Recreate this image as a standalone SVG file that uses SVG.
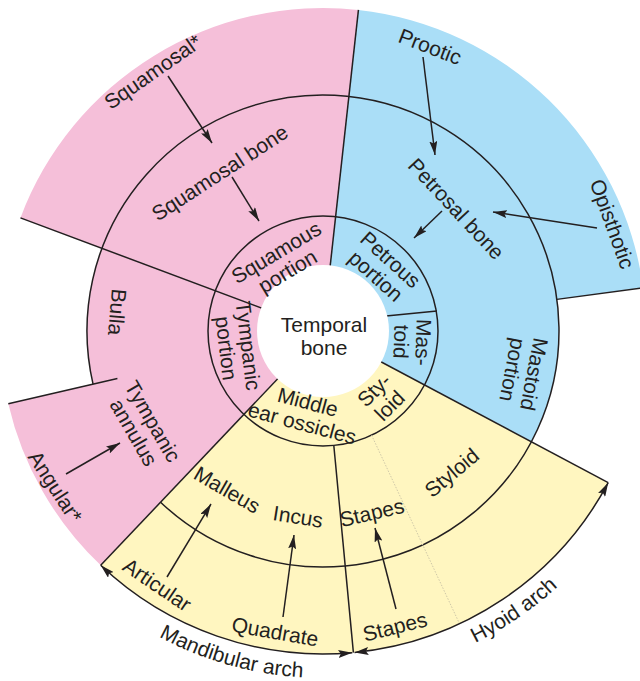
<svg xmlns="http://www.w3.org/2000/svg" width="640" height="681" viewBox="0 0 640 681">
<defs>
<style>
.t{font-family:"Liberation Sans",Arial,Helvetica,sans-serif;font-size:21px;fill:#231F20;text-anchor:middle}
.ln{stroke:#231F20;stroke-width:1.5;fill:none}
.dot{stroke:#cfc8a8;stroke-width:1;stroke-dasharray:1.5 1.5;fill:none}
.ar{stroke:#231F20;stroke-width:1.5;fill:none;marker-end:url(#ah)}
.ar2{stroke:#231F20;stroke-width:1.5;fill:none;marker-start:url(#ah);marker-end:url(#ah)}
</style>
<marker id="ah" viewBox="0 0 14 8" refX="14" refY="4" markerWidth="14" markerHeight="8" markerUnits="userSpaceOnUse" orient="auto-start-reverse"><path d="M0,0 L14,4 L0,8 L2.5,4 Z" fill="#231F20"/></marker>
<path id="arch" d="M22.49,504.5 A347,347 0 0 0 649.07,449.68"/>
</defs>
<g id="regions">
<path fill="#F5BFD9" d="M323,331 L100.7,565.3 A323,323 0 0 1 8.3,403.7 L93.05,384.1 A236,236 0 0 1 101.95,248.35 L20.46,217.88 A323,323 0 0 1 358.44,9.95 Z"/>
<path fill="#AADEF7" d="M323,331 L358.44,9.95 A323,323 0 0 1 643.1,287.7 L556.87,299.38 A236,236 0 0 1 531.38,441.8 Z"/>
<path fill="#FFF6C0" d="M323,331 L608.19,482.64 A323,323 0 0 1 100.7,565.3 Z"/>
</g>
<g id="dividers">
<circle class="ln" cx="323" cy="331" r="115"/>
<path class="ln" d="M93.05,384.1 A236,236 0 1 1 160.55,502.19"/>
<path class="ln" d="M323,331 L358.44,9.95"/>
<path class="ln" d="M323,331 L20.46,217.88"/>
<path class="ln" d="M323,331 L100.7,565.3"/>
<path class="ln" d="M323,331 L608.19,482.64"/>
<path class="ln" d="M556.87,299.38 L650,286.8"/>
<path class="ln" d="M117.41,378.46 L8.3,403.7"/>
<path class="ln" d="M333.82,445.49 L353.4,652.57"/>
<path class="ln" d="M386,316 L437,311"/>
<path class="dot" d="M371.6,435.2 L459.5,623.7"/>
</g>
<circle id="hub" cx="323" cy="331" r="66" fill="#FFFFFF"/>
<g id="connectors">
<path class="ar" d="M168,76 L212,143"/>
<path class="ar" d="M232,177 L259,221"/>
<path class="ar" d="M423,57 L435,155"/>
<path class="ar" d="M597,228 L493,212"/>
<path class="ar" d="M442,211 L414,238"/>
<path class="ar" d="M66,474 L120,443"/>
<path class="ar" d="M167,577 L211,504"/>
<path class="ar" d="M283,617 L294,535"/>
<path class="ar" d="M396,609 L375,528"/>
<path class="ar2" d="M100.7,565.3 A323,323 0 0 0 352.27,652.67"/>
<path class="ar2" d="M354.52,652.46 A323,323 0 0 0 608.19,482.64"/>
</g>
<g id="temporal-bone"><text class="t"><tspan x="324" y="331.5">Temporal</tspan><tspan x="324" y="355">bone</tspan></text></g>
<g id="squamosal-star"><text class="t" transform="translate(153,72) rotate(-35)" y="7">Squamosal*</text></g>
<g id="squamosal-bone"><text class="t" transform="translate(220,173) rotate(-33)" y="7">Squamosal bone</text></g>
<g id="squamous-portion"><text class="t" transform="translate(282,262) rotate(-31)"><tspan x="0" y="-4">Squamous</tspan><tspan x="0" y="18">portion</tspan></text></g>
<g id="petrous-portion"><text class="t" transform="translate(383,268) rotate(42)"><tspan x="0" y="-4">Petrous</tspan><tspan x="0" y="18">portion</tspan></text></g>
<g id="tympanic-portion"><text class="t" transform="translate(237,347) rotate(83)"><tspan x="0" y="-4">Tympanic</tspan><tspan x="0" y="18">portion</tspan></text></g>
<g id="mastoid"><text class="t" transform="translate(412,342) rotate(92)"><tspan x="0" y="-4">Mas-</tspan><tspan x="0" y="18">toid</tspan></text></g>
<g id="styloid-inner"><text class="t" transform="translate(382,398) rotate(-45)"><tspan x="0" y="-4">Sty-</tspan><tspan x="0" y="18">loid</tspan></text></g>
<g id="middle-ear-ossicles"><text class="t" transform="translate(305,413) rotate(15)"><tspan x="0" y="-4">Middle</tspan><tspan x="0" y="18">ear ossicles</tspan></text></g>
<g id="petrosal-bone"><text class="t" transform="translate(456,209) rotate(47)" y="7">Petrosal bone</text></g>
<g id="prootic"><text class="t" transform="translate(430,47) rotate(21)" y="7">Prootic</text></g>
<g id="opisthotic"><text class="t" transform="translate(612,224) rotate(70)" y="7">Opisthotic</text></g>
<g id="mastoid-portion"><text class="t" transform="translate(523,372) rotate(101)"><tspan x="0" y="-4">Mastoid</tspan><tspan x="0" y="18">portion</tspan></text></g>
<g id="bulla"><text class="t" transform="translate(117,312) rotate(95)" y="7">Bulla</text></g>
<g id="tympanic-annulus"><text class="t" transform="translate(143,427) rotate(60)"><tspan x="0" y="-4">Tympanic</tspan><tspan x="0" y="18">annulus</tspan></text></g>
<g id="angular"><text class="t" transform="translate(55,487) rotate(57)" y="7">Angular*</text></g>
<g id="malleus"><text class="t" transform="translate(227,490) rotate(30)" y="7">Malleus</text></g>
<g id="incus"><text class="t" transform="translate(298,517) rotate(9)" y="7">Incus</text></g>
<g id="articular"><text class="t" transform="translate(157,585) rotate(34)" y="7">Articular</text></g>
<g id="quadrate"><text class="t" transform="translate(275,632) rotate(10)" y="7">Quadrate</text></g>
<g id="stapes-middle"><text class="t" transform="translate(372,513) rotate(-13)" y="7">Stapes</text></g>
<g id="stapes-outer"><text class="t" transform="translate(395,627) rotate(-14)" y="7">Stapes</text></g>
<g id="styloid"><text class="t" transform="translate(452,473) rotate(-40)" y="7">Styloid</text></g>
<g id="mandibular-arch"><text class="t"><textPath href="#arch" startOffset="267.7">Mandibular arch</textPath></text></g>
<g id="hyoid-arch"><text class="t"><textPath href="#arch" startOffset="571.1">Hyoid arch</textPath></text></g>
</svg>
